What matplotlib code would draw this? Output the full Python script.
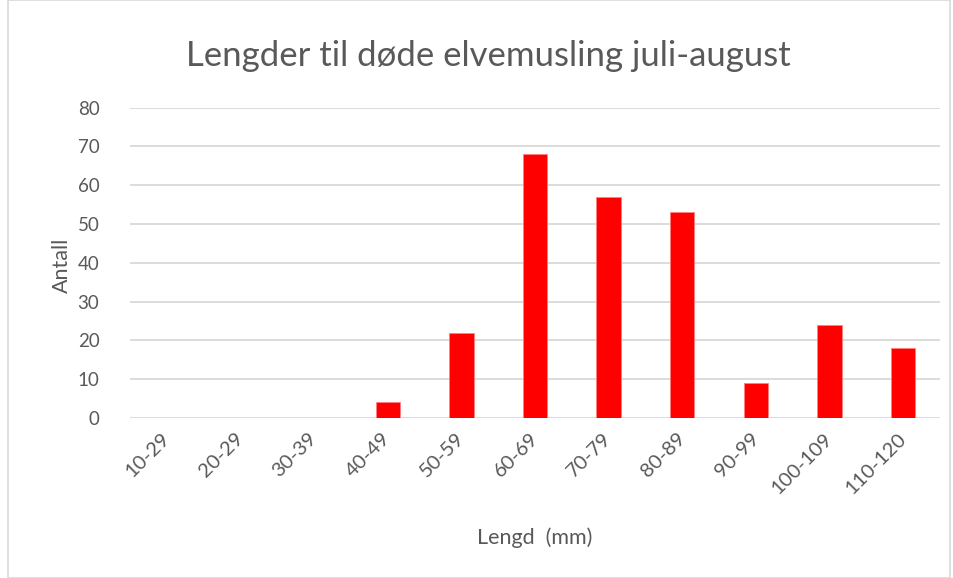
import matplotlib
matplotlib.use("Agg")
import matplotlib.pyplot as plt
from matplotlib.patches import Rectangle

categories = ["10-29", "20-29", "30-39", "40-49", "50-59", "60-69",
              "70-79", "80-89", "90-99", "100-109", "110-120"]
counts = [0, 0, 0, 4, 22, 68, 57, 53, 9, 24, 18]
yticks = [0, 10, 20, 30, 40, 50, 60, 70, 80]
title = "Lengder til døde elvemusling juli-august"

plt.rcParams['font.family'] = ['Lato', 'DejaVu Sans']
txt = '#595959'

W, H = 954, 578
fig = plt.figure(figsize=(W / 100, H / 100), dpi=100)
fig.patch.set_facecolor('white')
ax = fig.add_axes([130 / W, 1 - 418 / H, (940 - 130) / W, (418 - 107.7) / H])

x = list(range(len(categories)))
ax.bar(x, counts, width=0.33, color='#ff0000', edgecolor='#ff8080', linewidth=0.6, zorder=3)
ax.set_xlim(-0.5, len(categories) - 0.5)
ax.set_ylim(0, 80)
ax.set_yticks(yticks)
ax.yaxis.grid(True, color='#d9d9d9', linewidth=1.3, zorder=0)
ax.set_axisbelow(True)
for s in ax.spines.values():
    s.set_visible(False)
ax.tick_params(axis='both', length=0, colors=txt)
ax.tick_params(axis='y', pad=22, labelsize=13.5)
ax.set_xticks(x)
ax.set_xticklabels(categories, rotation=45, ha='right', va='center', rotation_mode='anchor')
ax.tick_params(axis='x', pad=13, labelsize=14.5)

fig.text(488 / W, 1 - 56 / H, title, ha='center', va='center', fontsize=25, color=txt)
fig.text(62 / W, 1 - 265 / H, "Antall", rotation=90, ha='center', va='center',
         fontsize=15.5, color=txt)
fig.text(535 / W, 1 - 538 / H, "Lengd  (mm)", ha='center', va='center',
         fontsize=15.5, color=txt)

fig.patches.append(Rectangle((8 / W, 0), (950 - 8) / W, 1, transform=fig.transFigure,
                             fill=False, edgecolor='#d9d9d9', linewidth=1.2))

fig.savefig("out.png", dpi=100, facecolor='white')
